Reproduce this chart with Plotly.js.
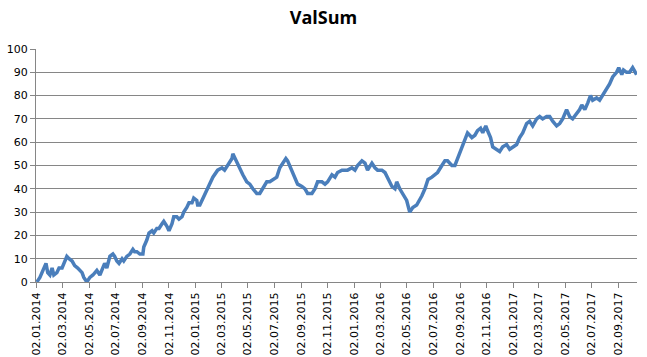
<!DOCTYPE html>
<html>
<head>
<meta charset="utf-8">
<script src="https://cdn.plot.ly/plotly-3.0.1.min.js"></script>
<style>html,body{margin:0;padding:0;background:#fff;}#chart{width:647px;height:357px;}</style>
</head>
<body>
<div id="chart"></div>
<script>
const dates = [
"2014-01-02","2014-01-09","2014-01-16","2014-01-23","2014-01-27","2014-02-01","2014-02-06","2014-02-10","2014-02-17","2014-02-22",
"2014-03-01","2014-03-05","2014-03-12","2014-03-17","2014-03-24","2014-03-30","2014-04-06","2014-04-16","2014-04-20","2014-04-27",
"2014-05-04","2014-05-11","2014-05-20","2014-05-27","2014-06-03","2014-06-07","2014-06-12","2014-06-19","2014-06-26","2014-06-30",
"2014-07-05","2014-07-10","2014-07-17","2014-07-21","2014-07-28","2014-08-04","2014-08-11","2014-08-15","2014-08-20","2014-08-27",
"2014-09-03","2014-09-05","2014-09-12","2014-09-17","2014-09-24","2014-09-28","2014-10-05","2014-10-10","2014-10-17","2014-10-21",
"2014-10-28","2014-11-02","2014-11-09","2014-11-13","2014-11-20","2014-11-25","2014-12-02","2014-12-06","2014-12-13","2014-12-18",
"2014-12-25","2014-12-29","2015-01-05","2015-01-07","2015-01-12","2015-01-19","2015-01-23","2015-01-30","2015-02-11","2015-02-22",
"2015-03-04","2015-03-10","2015-03-17","2015-03-27","2015-03-29","2015-04-05","2015-04-12","2015-04-21","2015-04-30","2015-05-07",
"2015-05-14","2015-05-23","2015-05-30","2015-06-06","2015-06-15","2015-06-22","2015-06-29","2015-07-08","2015-07-15","2015-07-22",
"2015-07-29","2015-08-02","2015-08-12","2015-08-19","2015-08-25","2015-09-04","2015-09-11","2015-09-17","2015-09-27","2015-10-04",
"2015-10-10","2015-10-20","2015-10-27","2015-11-02","2015-11-12","2015-11-19","2015-11-25","2015-12-05","2015-12-12","2015-12-18",
"2015-12-28","2016-01-04","2016-01-10","2016-01-20","2016-01-27","2016-02-02","2016-02-12","2016-02-19","2016-02-25","2016-03-06",
"2016-03-13","2016-03-19","2016-03-29","2016-04-05","2016-04-09","2016-04-16","2016-04-23","2016-05-02","2016-05-09","2016-05-16",
"2016-05-25","2016-06-01","2016-06-06","2016-06-13","2016-06-20","2016-06-29","2016-07-06","2016-07-12","2016-07-22","2016-07-29",
"2016-08-04","2016-08-14","2016-08-21","2016-08-27","2016-09-06","2016-09-13","2016-09-19","2016-09-29","2016-10-06","2016-10-12",
"2016-10-19","2016-10-24","2016-10-31","2016-11-04","2016-11-11","2016-11-16","2016-11-25","2016-12-02","2016-12-09","2016-12-18",
"2016-12-25","2017-01-01","2017-01-10","2017-01-17","2017-01-24","2017-02-02","2017-02-09","2017-02-16","2017-02-25","2017-03-04",
"2017-03-11","2017-03-20","2017-03-27","2017-04-03","2017-04-12","2017-04-19","2017-04-26","2017-05-05","2017-05-12","2017-05-19",
"2017-05-28","2017-06-04","2017-06-09","2017-06-16","2017-06-23","2017-06-29","2017-07-04","2017-07-13","2017-07-20","2017-07-27",
"2017-08-05","2017-08-12","2017-08-19","2017-08-28","2017-09-02","2017-09-09","2017-09-13","2017-09-20","2017-09-27","2017-10-04",
"2017-10-13"
];
const valSum = [
0,2,5,8,4,3,6,3,4,6,
6,8,11,10,9,7,6,4,2,0,
2,3,5,3,6,8,6,11,12,11,
9,8,10,9,11,12,14,13,13,12,
12,15,18,21,22,21,23,23,25,26,
24,22,25,28,28,27,28,30,32,34,
34,36,35,33,33,36,37,40,45,48,
49,48,50,53,55,52,49,46,43,42,
40,38,38,40,43,43,44,45,49,51,
53,52,48,45,42,41,40,38,38,40,
43,43,42,43,46,45,47,48,48,48,
49,48,50,52,51,48,51,49,48,48,
47,45,41,40,43,40,38,35,30,32,
33,35,37,40,44,45,46,47,50,52,
52,50,50,53,57,61,64,62,63,65,
66,64,67,65,62,58,57,56,58,59,
57,58,59,62,64,68,69,67,70,71,
70,71,71,69,67,68,70,74,71,70,
72,74,76,74,77,80,78,79,78,80,
83,85,88,90,92,89,91,90,90,92,
89
];
const tickDates = ["2014-01-02","2014-03-02","2014-05-02","2014-07-02","2014-09-02","2014-11-02",
"2015-01-02","2015-03-02","2015-05-02","2015-07-02","2015-09-02","2015-11-02",
"2016-01-02","2016-03-02","2016-05-02","2016-07-02","2016-09-02","2016-11-02",
"2017-01-02","2017-03-02","2017-05-02","2017-07-02","2017-09-02"];
const tickLabels = ["02.01.2014","02.03.2014","02.05.2014","02.07.2014","02.09.2014","02.11.2014",
"02.01.2015","02.03.2015","02.05.2015","02.07.2015","02.09.2015","02.11.2015",
"02.01.2016","02.03.2016","02.05.2016","02.07.2016","02.09.2016","02.11.2016",
"02.01.2017","02.03.2017","02.05.2017","02.07.2017","02.09.2017"];

const trace = {
  x: dates, y: valSum, type: 'scatter', mode: 'lines',
  line: {color: '#4A7EBB', width: 3.5},
  hoverinfo: 'skip'
};
const layout = {
  width: 647, height: 357,
  margin: {l: 36, r: 10, t: 49, b: 75},
  paper_bgcolor: '#ffffff', plot_bgcolor: '#ffffff',
  showlegend: false,
  title: {text: '<b>ValSum</b>', x: 0.5, xanchor: 'center', y: 0.95, yanchor: 'middle',
          font: {family: 'Open Sans, sans-serif', size: 18, color: '#000'}},
  xaxis: {
    type: 'date', range: ['2013-12-31', '2017-10-14'],
    tickmode: 'array', tickvals: tickDates, ticktext: tickLabels,
    tickangle: -90, ticks: 'outside', ticklen: 5, tickcolor: '#868686',
    showline: true, linecolor: '#868686', linewidth: 1,
    showgrid: false, zeroline: false,
    tickfont: {family: 'DejaVu Sans, sans-serif', size: 11, color: '#000'}
  },
  yaxis: {
    range: [0, 100], tickmode: 'linear', tick0: 0, dtick: 10,
    ticks: 'outside', ticklen: 5, tickcolor: '#868686',
    showline: true, linecolor: '#868686', linewidth: 1,
    showgrid: true, gridcolor: '#868686', gridwidth: 1, zeroline: false,
    tickfont: {family: 'DejaVu Sans, sans-serif', size: 11, color: '#000'}
  }
};
Plotly.newPlot('chart', [trace], layout, {displayModeBar: false, staticPlot: true});
</script>
</body>
</html>
